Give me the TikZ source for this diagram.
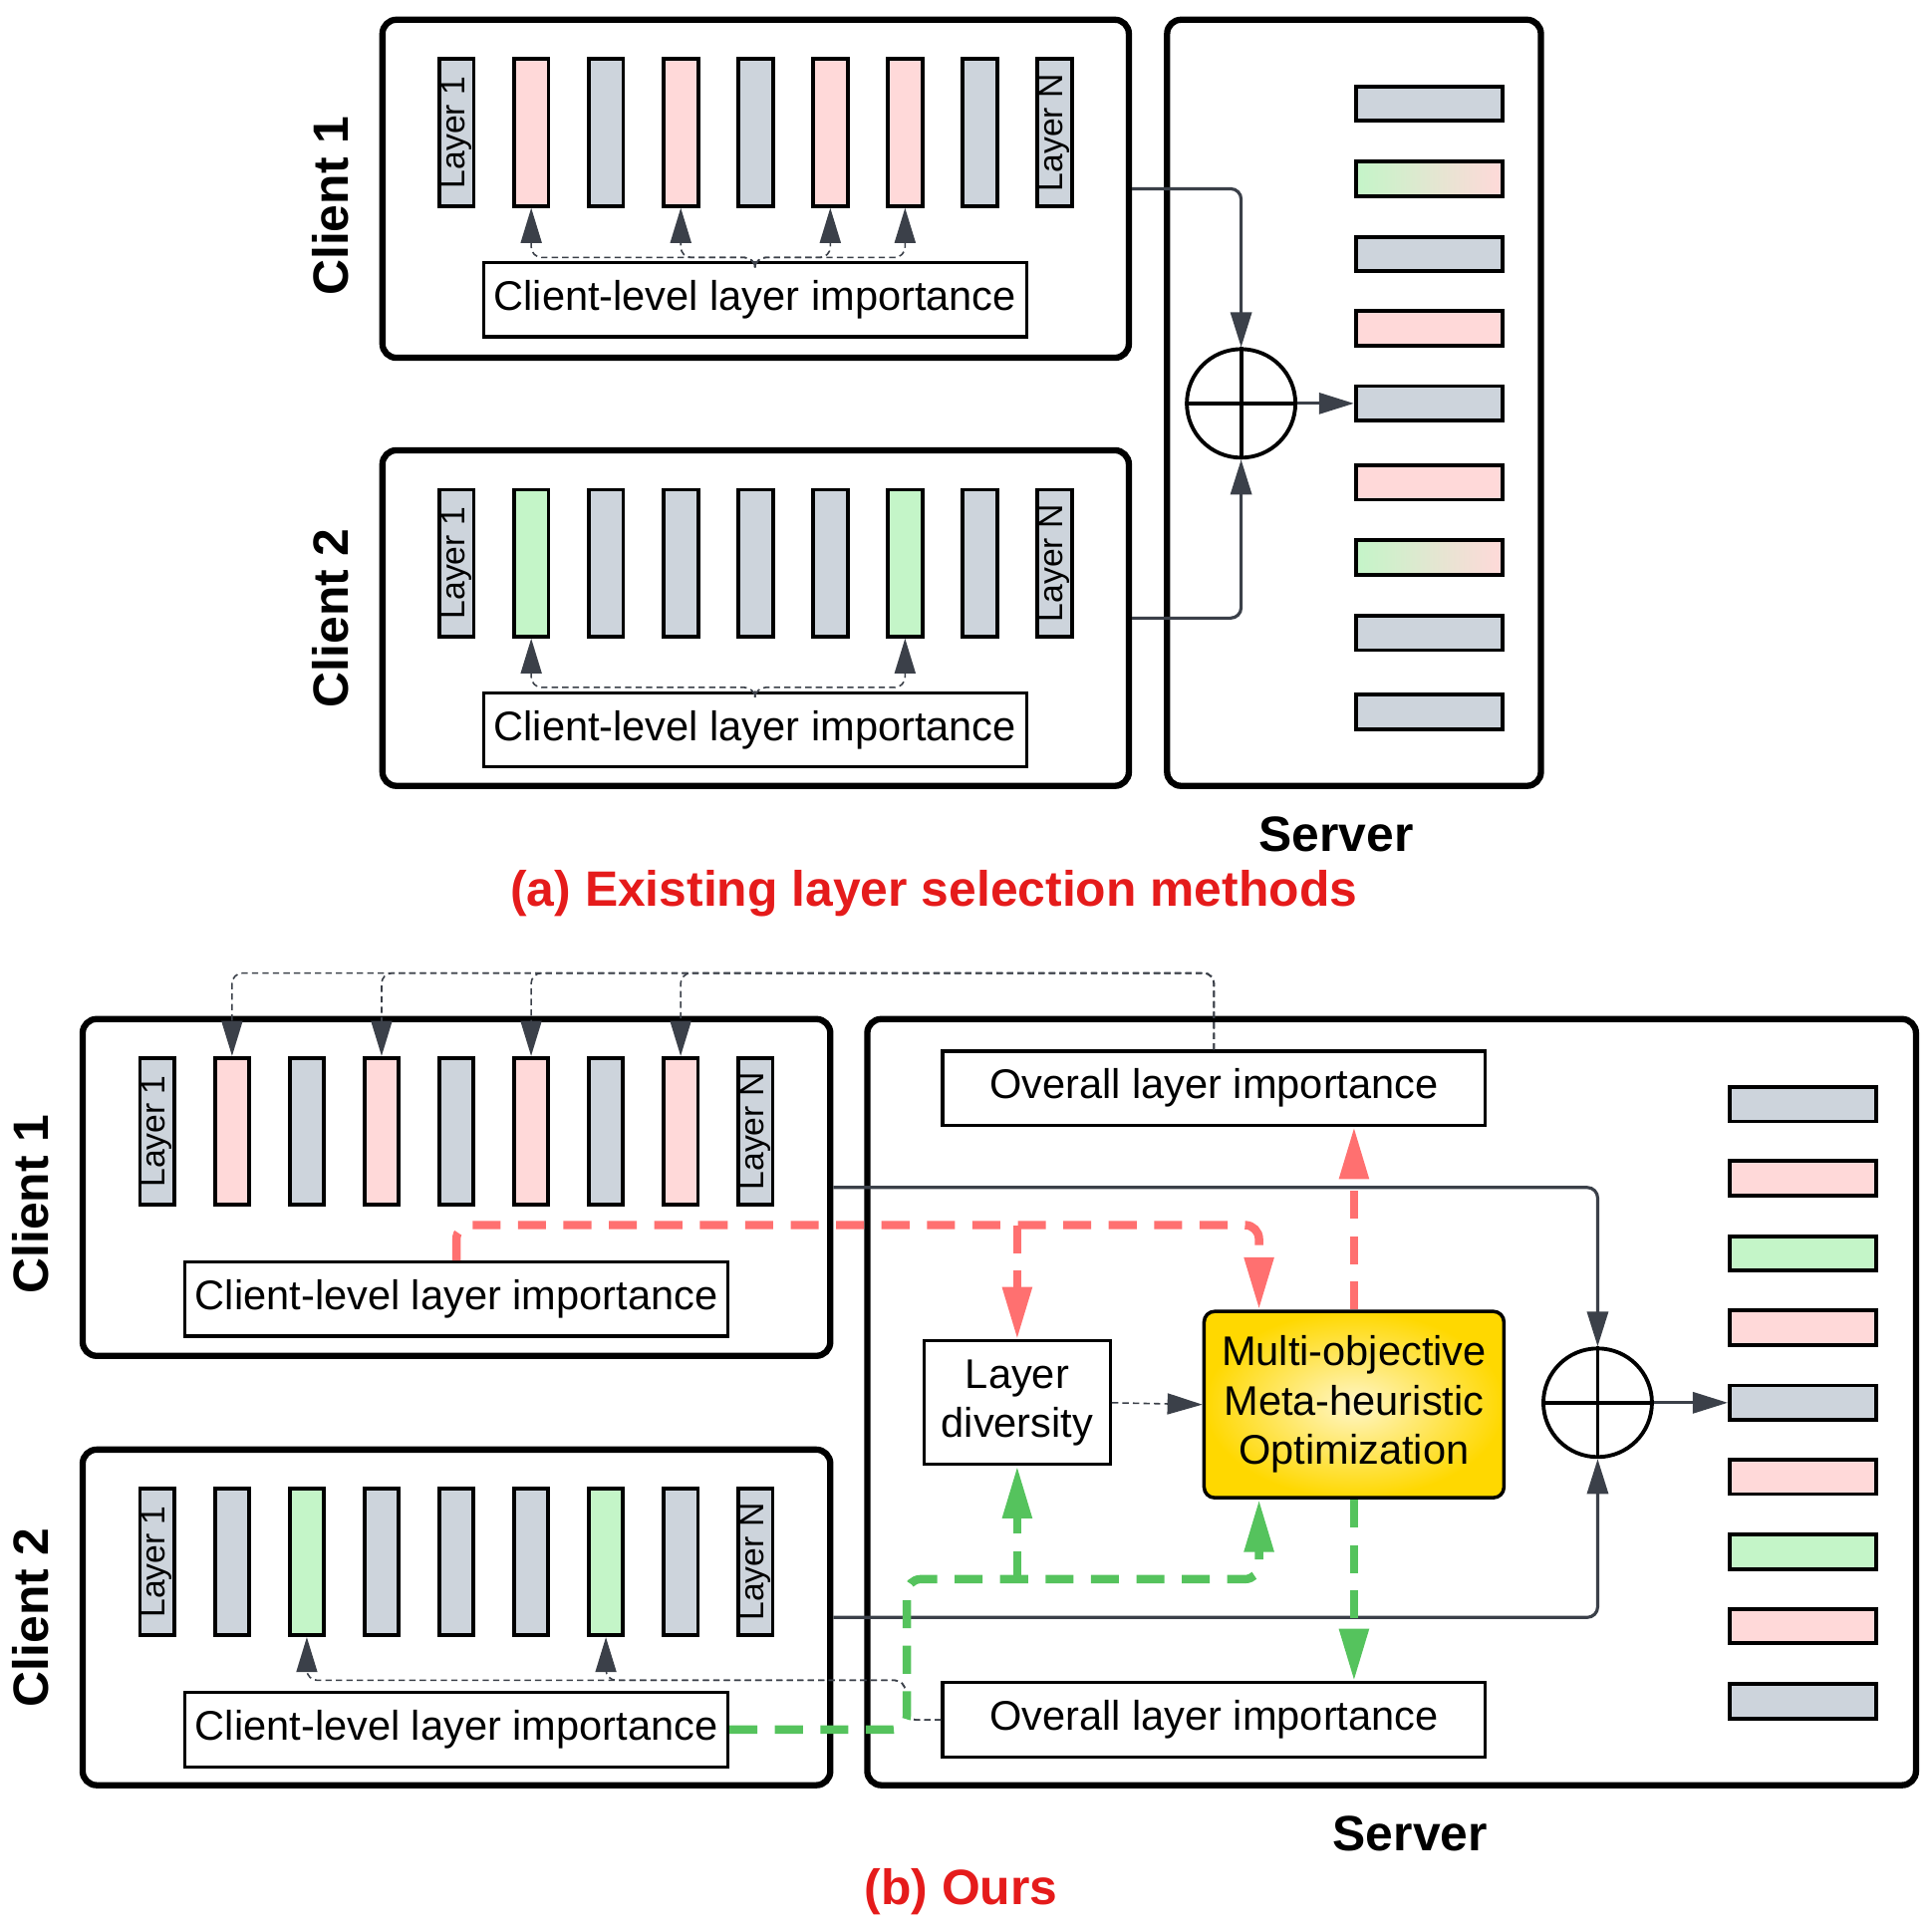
\documentclass[tikz,border=0pt]{standalone}
\usepackage{fontspec}
\setmainfont{Liberation Sans}
\usepackage{tikz}
\usetikzlibrary{arrows.meta,calc,fit}

\newcommand{\pxu}{0.0124cm}
\newcommand{\txtsize}{\fontsize{11.85}{14.1}\selectfont}
\newcommand{\laysize}{\fontsize{9.6}{11}\selectfont}
\newcommand{\ttlsize}{\fontsize{14.2}{17}\selectfont\bfseries}

\definecolor{layergray}{HTML}{CDD4DC}
\definecolor{layerpink}{HTML}{FFD9D9}
\definecolor{layergreen}{HTML}{C4F5C8}
\definecolor{linegray}{HTML}{3B4049}
\definecolor{optred}{HTML}{FF7070}
\definecolor{optgreen}{HTML}{55C35D}
\definecolor{capred}{HTML}{E51B1B}
\definecolor{goldy}{HTML}{FFD800}
\definecolor{lighty}{HTML}{FFF6C8}

\tikzset{
  bar/.style={draw, line width=1.1pt, minimum width=28*\pxu, minimum height=119*\pxu, inner sep=0pt},
  obar/.style={draw, line width=1.1pt, minimum width=119*\pxu, minimum height=28*\pxu, inner sep=0pt},
  cbox/.style={draw, line width=1.8pt, rounded corners=4pt, inner sep=0pt},
  ibox/.style={draw, line width=0.9pt, inner sep=0pt, font=\txtsize},
  gry/.style={fill=layergray},
  pnk/.style={fill=layerpink},
  grn/.style={fill=layergreen},
  mix/.style={left color=layergreen, right color=layerpink},
  plus/.style={circle, draw, line width=1.1pt, minimum size=88*\pxu, inner sep=0pt}
}

\begin{document}
\begin{tikzpicture}[x=\pxu, y=-\pxu,
  conn/.style={draw=linegray, line width=0.9pt, rounded corners=3pt, -{Triangle[length=10pt,width=6pt]}},
  dconn/.style={conn, line width=0.45pt, dash pattern=on 1.8pt off 1.2pt},
  rdash/.style={draw=optred, line width=2.4pt, dash pattern=on 8pt off 5pt, rounded corners=4pt, -{Triangle[length=15pt,width=8pt]}},
  gdash/.style={rdash, draw=optgreen}]
  \useasboundingbox (0,0) rectangle (1566,1561);

  % (a) クライアント1
  \node[cbox, fit={(310,16) (915,290)}] (a1box) {};
  \node[rotate=90, font=\ttlsize] (a1name) at (268,167) {Client 1};
  \foreach \c [count=\i] in {gry,pnk,gry,pnk,gry,pnk,pnk,gry,gry}
    \node[bar, \c] (a1b\i) at ({370+60.6*(\i-1)},107.5) {};
  \node[rotate=90, font=\laysize] (a1l1) at (a1b1) {Layer 1};
  \node[rotate=90, font=\laysize] (a1ln) at (a1b9) {Layer N};
  \node[ibox, minimum width=440*\pxu, minimum height=60*\pxu] (a1imp) at (612,243) {Client-level layer importance};
  \foreach \k in {2,4,6,7}
    \draw[dconn] (a1imp.north) -- ++(0,-3) -| (a1b\k.south);

  % (a) クライアント2
  \node[cbox, fit={(310,365) (915,637)}] (a2box) {};
  \node[rotate=90, font=\ttlsize] (a2name) at (268,501) {Client 2};
  \foreach \c [count=\i] in {gry,grn,gry,gry,gry,gry,grn,gry,gry}
    \node[bar, \c] (a2b\i) at ({370+60.6*(\i-1)},456.5) {};
  \node[rotate=90, font=\laysize] (a2l1) at (a2b1) {Layer 1};
  \node[rotate=90, font=\laysize] (a2ln) at (a2b9) {Layer N};
  \node[ibox, minimum width=440*\pxu, minimum height=60*\pxu] (a2imp) at (612,591.5) {Client-level layer importance};
  \foreach \k in {2,7}
    \draw[dconn] (a2imp.north) -- ++(0,-3) -| (a2b\k.south);

  % (a) サーバ
  \node[cbox, fit={(946,16) (1249,637)}] (asrv) {};
  \node[plus] (plusA) at (1006,327) {};
  \draw[line width=1.1pt] (plusA.north) -- (plusA.south) (plusA.west) -- (plusA.east);
  \foreach \c/\yy [count=\i] in {gry/84,mix/145,gry/206,pnk/266,gry/327,pnk/391,mix/452,gry/513,gry/577}
    \node[obar, \c] (aout\i) at (1158.5,\yy) {};
  \draw[conn] (a1box.east) -| (plusA.north);
  \draw[conn] (a2box.east) -| (plusA.south);
  \draw[conn] (plusA.east) -- (aout5.west);
  \node[font=\ttlsize] (asrvname) at (1083,676) {Server};
  \node[font=\ttlsize, text=capred] (acap) at (757,724) {(a) Existing layer selection methods};

  % (b) クライアント1
  \node[cbox, fit={(67,826) (673,1099)}] (b1box) {};
  \node[rotate=90, font=\ttlsize] (b1name) at (25,976) {Client 1};
  \foreach \c [count=\i] in {gry,pnk,gry,pnk,gry,pnk,gry,pnk,gry}
    \node[bar, \c] (b1b\i) at ({127.5+60.6*(\i-1)},917) {};
  \node[rotate=90, font=\laysize] (b1l1) at (b1b1) {Layer 1};
  \node[rotate=90, font=\laysize] (b1ln) at (b1b9) {Layer N};
  \node[ibox, minimum width=440*\pxu, minimum height=60*\pxu] (b1imp) at (370,1053) {Client-level layer importance};

  % (b) クライアント2
  \node[cbox, fit={(67,1175) (673,1447)}] (b2box) {};
  \node[rotate=90, font=\ttlsize] (b2name) at (25,1311) {Client 2};
  \foreach \c [count=\i] in {gry,gry,grn,gry,gry,gry,grn,gry,gry}
    \node[bar, \c] (b2b\i) at ({127.5+60.6*(\i-1)},1266) {};
  \node[rotate=90, font=\laysize] (b2l1) at (b2b1) {Layer 1};
  \node[rotate=90, font=\laysize] (b2ln) at (b2b9) {Layer N};
  \node[ibox, minimum width=440*\pxu, minimum height=60*\pxu] (b2imp) at (370,1402) {Client-level layer importance};

  % (b) サーバ
  \node[cbox, fit={(703,826) (1553,1447)}] (bsrv) {};
  \node[ibox, minimum width=440*\pxu, minimum height=60*\pxu] (b1ovr) at (984,882) {Overall layer importance};
  \node[ibox, minimum width=440*\pxu, minimum height=60*\pxu] (b2ovr) at (984,1394) {Overall layer importance};
  \node[ibox, minimum width=151*\pxu, minimum height=100*\pxu, align=center] (div) at (824.5,1137) {Layer\\diversity};
  \node[draw, line width=1pt, rounded corners=3pt, inner color=lighty, outer color=goldy,
        minimum width=243*\pxu, minimum height=151*\pxu, align=center, font=\txtsize] (multi) at (1097.5,1138.5)
        {Multi-objective\\Meta-heuristic\\Optimization};
  \node[plus] (plusB) at (1295,1137) {};
  \draw[line width=1.1pt] (plusB.north) -- (plusB.south) (plusB.west) -- (plusB.east);
  \foreach \c/\yy [count=\i] in {gry/895,pnk/955,grn/1016,pnk/1076,gry/1137,pnk/1197,grn/1258,pnk/1318,gry/1379}
    \node[obar, \c] (bout\i) at (1461.5,\yy) {};
  \node[font=\ttlsize] (bsrvname) at (1143,1486) {Server};
  \node[font=\ttlsize, text=capred] (bcap) at (779,1533) {(b) Ours};

  % 集約
  \draw[conn] (b1box.east) -| (plusB.north);
  \draw[conn] (b2box.east) -| (plusB.south);
  \draw[conn] (plusB.east) -- (bout5.west);

  % 全体の重要度 -> 層
  \foreach \k in {2,4,6,8}
    \draw[dconn] (b1ovr.north) -- ++(0,-62) -| (b1b\k.north);
  \foreach \k in {3,7}
    \draw[dconn] (b2ovr.west) -- ++(-29,0) -- ++(0,-32) -| (b2b\k.south);
  \draw[dconn] (div.east) -- (multi.west);

  % 最適化の流れ
  \coordinate (rbus) at (370,993);
  \coordinate (gbus) at (735,1280);
  \draw[rdash] (b1imp.north) -- (rbus) -| ($(multi.north)+(-77,0)$);
  \draw[rdash] (div.north |- rbus) -- (div.north);
  \draw[rdash] (multi.north) -- (multi.north |- b1ovr.south);
  \draw[gdash] (b2imp.east) -- (gbus |- b2imp.east) -- (gbus) -| ($(multi.south)+(-77,0)$);
  \draw[gdash] (div.south |- gbus) -- (div.south);
  \draw[gdash] (multi.south) -- (multi.south |- b2ovr.north);
\end{tikzpicture}
\end{document}
